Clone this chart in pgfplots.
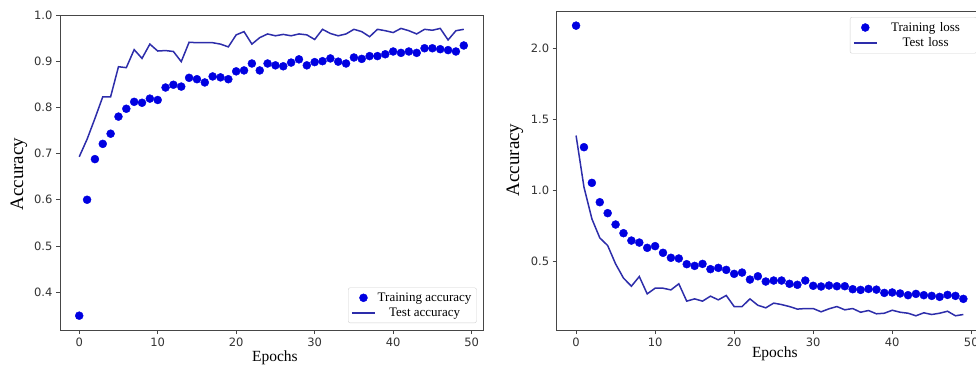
\documentclass[border=0pt]{standalone}
\usepackage{fontspec}
\setmainfont{Liberation Serif}
\newfontfamily\tickfont{DejaVu Sans}
\usepackage{pgfplots}
\pgfplotsset{compat=1.18}
\definecolor{mkblue}{RGB}{0,0,225}
\definecolor{lnblue}{RGB}{45,45,170}
\definecolor{axgray}{RGB}{70,70,70}
\pgfplotsset{
  myaxis/.style={
    scale only axis,
    axis line style={axgray, line width=0.9pt},
    tick style={axgray, line width=0.8pt},
    tick align=outside,
    major tick length=4pt,
    xtick pos=bottom, ytick pos=left,
    xtick={0,10,20,30,40,50},
    tick label style={font=\fontsize{11.5}{12}\tickfont, text=black!80},
    /pgf/number format/assume math mode=true,
    xmin=-2.45, xmax=51.45,
    xlabel={Epochs}, ylabel={Accuracy},
    xlabel style={font=\fontsize{15.5}{16}\selectfont, anchor=center},
    ylabel style={font=\fontsize{19}{20}\selectfont, anchor=center},
    legend style={font=\fontsize{13}{14}\selectfont, draw=black!18, rounded corners=2pt, inner sep=3pt, row sep=1pt},
    legend cell align=center,
    linelegend,
  },
  linelegend/.style={legend image code/.code={\draw[##1] (0pt,0pt) -- (23pt,0pt);}},
  dotlegend/.style={legend image code/.code={\draw[##1] plot coordinates {(11.5pt,0pt)};}},
  trainstyle/.style={only marks, mark=*, mark size=4pt, color=mkblue, dotlegend},
  teststyle/.style={color=lnblue, line width=1.5pt, mark=none, linelegend},
}
\begin{document}
\begin{tikzpicture}
\begin{axis}[myaxis, at={(60pt,37pt)}, anchor=south west, width=423pt, height=315pt,
  ymin=0.318, ymax=1.0,
  ytick={0.4,0.5,0.6,0.7,0.8,0.9,1.0},
  yticklabel style={/pgf/number format/fixed, /pgf/number format/fixed zerofill, /pgf/number format/precision=1},
  xlabel style={at={(axis description cs:0.508,-0.089)}},
  ylabel style={at={(axis description cs:-0.097,0.495)}},
  legend style={at={(axis description cs:0.985,0.022)}, anchor=south east},
]
\addplot[trainstyle] coordinates {
(0,0.349)(1,0.600)(2,0.688)(3,0.721)(4,0.743)(5,0.780)(6,0.797)(7,0.812)(8,0.810)(9,0.819)
(10,0.816)(11,0.843)(12,0.849)(13,0.845)(14,0.864)(15,0.861)(16,0.854)(17,0.867)(18,0.865)(19,0.861)
(20,0.878)(21,0.880)(22,0.895)(23,0.880)(24,0.895)(25,0.891)(26,0.889)(27,0.897)(28,0.904)(29,0.891)
(30,0.898)(31,0.900)(32,0.906)(33,0.899)(34,0.895)(35,0.908)(36,0.905)(37,0.911)(38,0.911)(39,0.915)
(40,0.921)(41,0.918)(42,0.921)(43,0.918)(44,0.928)(45,0.928)(46,0.926)(47,0.924)(48,0.921)(49,0.934)
};
\addlegendentry{Training accuracy}
\addplot[teststyle] coordinates {
(0,0.693)(1,0.731)(2,0.776)(3,0.823)(4,0.823)(5,0.888)(6,0.886)(7,0.925)(8,0.906)(9,0.937)
(10,0.922)(11,0.923)(12,0.921)(13,0.899)(14,0.941)(15,0.940)(16,0.940)(17,0.940)(18,0.937)(19,0.931)
(20,0.957)(21,0.964)(22,0.937)(23,0.951)(24,0.959)(25,0.955)(26,0.958)(27,0.955)(28,0.959)(29,0.957)
(30,0.947)(31,0.969)(32,0.960)(33,0.955)(34,0.959)(35,0.969)(36,0.964)(37,0.953)(38,0.969)(39,0.966)
(40,0.962)(41,0.971)(42,0.966)(43,0.959)(44,0.969)(45,0.967)(46,0.971)(47,0.946)(48,0.966)(49,0.969)
};
\addlegendentry{Test accuracy}
\end{axis}
\begin{axis}[myaxis, at={(556.7pt,37pt)}, anchor=south west, width=426pt, height=319pt,
  ymin=0.018, ymax=2.262,
  ytick={0.5,1.0,1.5,2.0},
  yticklabel style={/pgf/number format/fixed, /pgf/number format/fixed zerofill, /pgf/number format/precision=1},
  xlabel style={at={(axis description cs:0.512,-0.075)}},
  ylabel style={at={(axis description cs:-0.098,0.533)}},
  legend style={at={(axis description cs:0.986,0.981)}, anchor=north east, nodes={text width=92pt, align=center}},
]
\addplot[trainstyle] coordinates {
(0,2.159)(1,1.304)(2,1.053)(3,0.917)(4,0.840)(5,0.760)(6,0.699)(7,0.647)(8,0.633)(9,0.596)
(10,0.608)(11,0.561)(12,0.526)(13,0.521)(14,0.481)(15,0.469)(16,0.483)(17,0.446)(18,0.455)(19,0.441)
(20,0.413)(21,0.422)(22,0.373)(23,0.396)(24,0.359)(25,0.366)(26,0.366)(27,0.343)(28,0.336)(29,0.366)
(30,0.329)(31,0.324)(32,0.331)(33,0.326)(34,0.326)(35,0.305)(36,0.300)(37,0.307)(38,0.302)(39,0.279)
(40,0.282)(41,0.275)(42,0.263)(43,0.272)(44,0.263)(45,0.258)(46,0.251)(47,0.265)(48,0.258)(49,0.237)
};
\addlegendentry{Training loss}
\addplot[teststyle] coordinates {
(0,1.386)(1,1.023)(2,0.800)(3,0.666)(4,0.612)(5,0.483)(6,0.383)(7,0.326)(8,0.394)(9,0.272)
(10,0.312)(11,0.312)(12,0.300)(13,0.343)(14,0.221)(15,0.237)(16,0.221)(17,0.256)(18,0.230)(19,0.261)
(20,0.183)(21,0.183)(22,0.237)(23,0.192)(24,0.174)(25,0.207)(26,0.197)(27,0.183)(28,0.165)(29,0.169)
(30,0.169)(31,0.146)(32,0.167)(33,0.183)(34,0.160)(35,0.169)(36,0.143)(37,0.155)(38,0.132)(39,0.136)
(40,0.157)(41,0.143)(42,0.136)(43,0.118)(44,0.139)(45,0.127)(46,0.136)(47,0.150)(48,0.118)(49,0.127)
};
\addlegendentry{Test loss}
\end{axis}
\pgfresetboundingbox
\useasboundingbox (0pt,0pt) rectangle (976pt,367pt);
\end{tikzpicture}
\end{document}
